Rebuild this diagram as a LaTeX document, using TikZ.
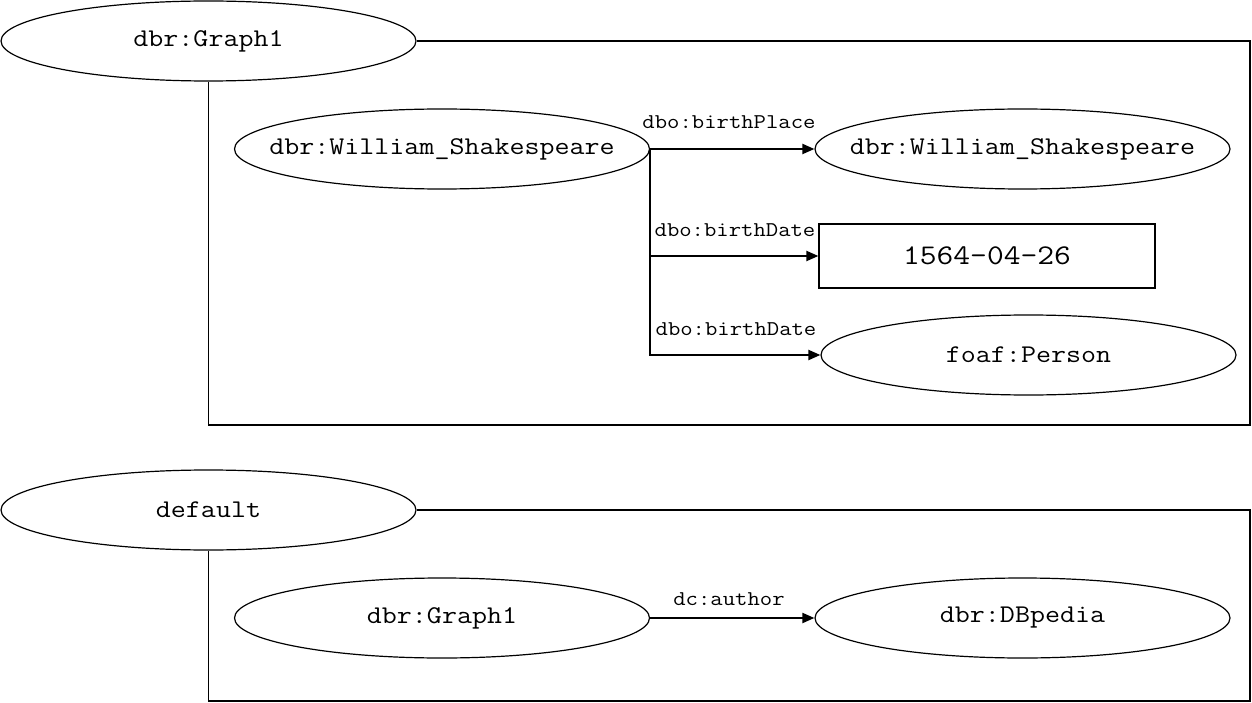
\documentclass[tikz,border=0pt]{standalone}
\usepackage{fontspec}
\setmonofont{Latin Modern Mono}[FakeStretch=1.143]
\usetikzlibrary{shapes.geometric,arrows.meta}
\begin{document}
\begin{tikzpicture}[x=1pt,y=-1pt,
  ell/.style={draw,ellipse,line width=1.2pt,minimum width=415pt,minimum height=80pt,inner xsep=-60pt,inner ysep=0pt,font=\ttfamily\fontsize{25.5}{25.5}\selectfont},
  rbox/.style={draw,rectangle,line width=1.2pt,minimum width=336pt,minimum height=64pt,inner sep=0pt,font=\ttfamily\fontsize{28.5}{28.5}\selectfont},
  lbl/.style={inner sep=0pt,font=\ttfamily\fontsize{21}{21}\selectfont},
  frame/.style={line width=1.6pt},
  arr/.style={line width=2pt,-{Triangle[length=12pt,width=10pt]}}]
\useasboundingbox (0,0) rectangle (1252,703);
% graph 1
\node[ell] (g1) at (208.5,41) {dbr:Graph1};
\coordinate (f1a) at (1250,41);
\coordinate (f1b) at (1250,425);
\coordinate (f1c) at (208.5,425);
\draw[frame] (g1.east) -- (f1a) -- (f1b) -- (f1c) -- (g1.south);
\node[ell] (ws1) at (442,149) {dbr:William\_Shakespeare};
\node[ell] (ws2) at (1022.5,149) {dbr:William\_Shakespeare};
\node[rbox] (date) at (987,256) {1564-04-26};
\node[ell] (foaf) at (1028.5,355) {foaf:Person};
\draw[arr] (ws1.east) -- (ws2.west);
\draw[arr] (ws1.east) |- (date.west);
\draw[arr] (ws1.east) |- (foaf.west);
\node[lbl] (l1) at (729,122) {dbo:birthPlace};
\node[lbl] (l2) at (735,230) {dbo:birthDate};
\node[lbl] (l3) at (736,329) {dbo:birthDate};
% default graph
\node[ell] (d) at (208.5,510) {default};
\coordinate (f2a) at (1250,510);
\coordinate (f2b) at (1250,701);
\coordinate (f2c) at (208.5,701);
\draw[frame] (d.east) -- (f2a) -- (f2b) -- (f2c) -- (d.south);
\node[ell] (g2) at (442,618) {dbr:Graph1};
\node[ell] (dbp) at (1022.5,618) {dbr:DBpedia};
\draw[arr] (g2.east) -- (dbp.west);
\node[lbl] (l4) at (729,599) {dc:author};
\end{tikzpicture}
\end{document}
